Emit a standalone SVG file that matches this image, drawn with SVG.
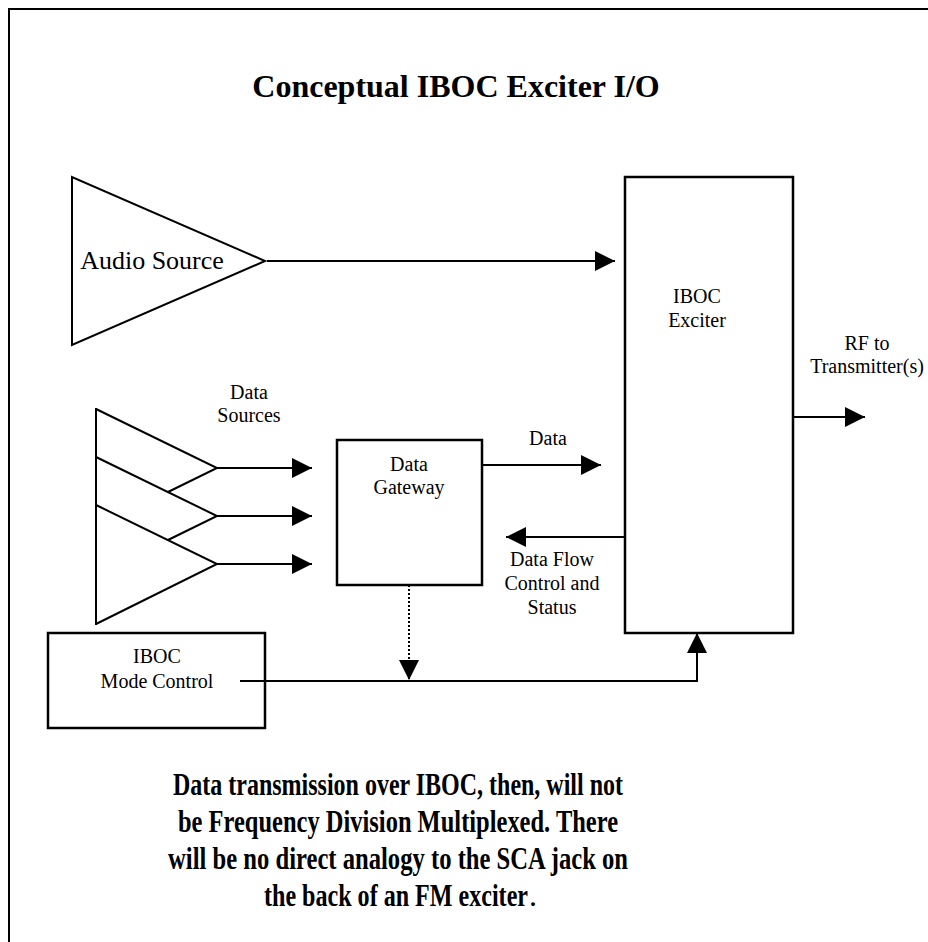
<svg xmlns="http://www.w3.org/2000/svg" width="928" height="942" viewBox="0 0 928 942">
<style>
  .ln{stroke:#000;stroke-width:2;fill:none}
  .bx{stroke:#000;stroke-width:2.5;fill:#fff}
  .t{font-family:"Liberation Serif","Times New Roman",serif;fill:#000;text-anchor:middle}
  .s{font-size:20px}
  .b{font-weight:bold}
</style>
<defs>
  <marker id="ah" markerUnits="userSpaceOnUse" markerWidth="20" markerHeight="20" refX="20" refY="10" orient="auto" viewBox="0 0 20 20">
    <path d="M0,0 L20,10 L0,20 z" fill="#000"/>
  </marker>
</defs>
<rect x="0" y="0" width="928" height="942" fill="#fff"/>
<path d="M9,942 V9 H928" class="ln" stroke-width="3"/>
<text class="t b" x="456" y="97" font-size="32">Conceptual IBOC Exciter I/O</text>

<g id="audio-source">
  <polygon points="72,177 72,345 265,261" class="ln"/>
  <text class="t" x="152" y="269" font-size="26">Audio Source</text>
</g>

<g id="data-sources">
  <polyline points="96,409 217,468 168,492" class="ln"/>
  <polyline points="96,457 217,516 168,540" class="ln"/>
  <polyline points="96,505 217,564 96,624" class="ln"/>
  <line x1="96" y1="408" x2="96" y2="625" class="ln"/>
  <text class="t s" x="249" y="399">Data</text>
  <text class="t s" x="249" y="422">Sources</text>
</g>

<g id="data-gateway">
  <rect x="337" y="440" width="145" height="145" class="bx"/>
  <text class="t s" x="409" y="471">Data</text>
  <text class="t s" x="409" y="494">Gateway</text>
</g>

<g id="iboc-exciter">
  <rect x="625" y="177" width="168" height="456" class="bx"/>
  <text class="t s" x="697" y="303">IBOC</text>
  <text class="t s" x="697" y="327">Exciter</text>
</g>

<g id="mode-control">
  <rect x="48" y="633" width="217" height="95" class="bx"/>
  <text class="t s" x="157" y="663">IBOC</text>
  <text class="t s" x="157" y="688">Mode Control</text>
</g>

<g id="connectors">
  <line x1="267" y1="261" x2="615" y2="261" class="ln" marker-end="url(#ah)"/>
  <line x1="217" y1="468" x2="312" y2="468" class="ln" marker-end="url(#ah)"/>
  <line x1="217" y1="516" x2="312" y2="516" class="ln" marker-end="url(#ah)"/>
  <line x1="217" y1="564" x2="312" y2="564" class="ln" marker-end="url(#ah)"/>
  <line x1="482" y1="465" x2="601" y2="465" class="ln" marker-end="url(#ah)"/>
  <line x1="625" y1="537" x2="506" y2="537" class="ln" marker-end="url(#ah)"/>
  <line x1="793" y1="417" x2="865" y2="417" class="ln" marker-end="url(#ah)"/>
  <line x1="409" y1="585" x2="409" y2="680" class="ln" stroke-dasharray="2,2" marker-end="url(#ah)"/>
  <polyline points="240,681 697,681 697,633" class="ln" marker-end="url(#ah)"/>
</g>

<text class="t s" x="548" y="445">Data</text>
<text class="t s" x="552" y="566">Data Flow</text>
<text class="t s" x="552" y="590">Control and</text>
<text class="t s" x="552" y="614">Status</text>
<text class="t s" x="867" y="350">RF to</text>
<text class="t s" x="867" y="373">Transmitter(s)</text>

<g class="t b" font-size="32">
  <text x="398" y="795" textLength="450" lengthAdjust="spacingAndGlyphs">Data transmission over IBOC, then, will not</text>
  <text x="398" y="832" textLength="440" lengthAdjust="spacingAndGlyphs">be Frequency Division Multiplexed.  There</text>
  <text x="398" y="869" textLength="460" lengthAdjust="spacingAndGlyphs">will be no direct analogy to the SCA jack on</text>
  <text x="396" y="906" textLength="264" lengthAdjust="spacingAndGlyphs">the back of an FM exciter</text>
  <text x="529" y="906" font-weight="normal" text-anchor="start">.</text>
</g>
</svg>
